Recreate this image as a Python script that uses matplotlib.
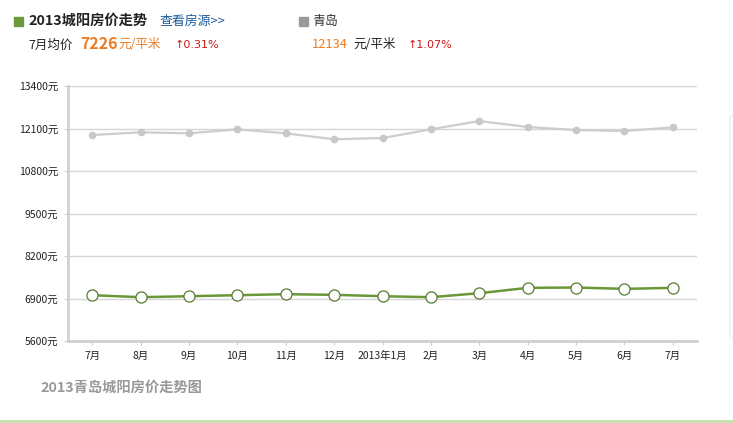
"""
2013 城阳房价走势图
"""
import matplotlib
matplotlib.use("Agg")
import matplotlib.pyplot as plt
from matplotlib.patches import FancyBboxPatch

plt.rcParams["font.family"] = ["Noto Sans CJK SC", "DejaVu Sans"]
plt.rcParams["axes.unicode_minus"] = False

# 数据
months = ["7月", "8月", "9月", "10月", "11月", "12月", "2013年1月",
          "2月", "3月", "4月", "5月", "6月", "7月"]
chengyang = [7001, 6940, 6970, 7001, 7032, 7012, 6970,
             6940, 7062, 7226, 7236, 7195, 7226]
qingdao = [11901, 11983, 11953, 12075, 11953, 11770, 11809,
           12075, 12329, 12146, 12054, 12023, 12134]
y_ticks = [5600, 6900, 8200, 9500, 10800, 12100, 13400]

W, H = 733, 423
fig = plt.figure(figsize=(W / 100, H / 100), dpi=100)

ax = fig.add_axes([68 / W, 1 - 341 / H, (697 - 68) / W, (341 - 86) / H])
x = list(range(len(months)))

ax.plot(x, qingdao, color="#cdcdcd", linewidth=1.6, marker="o",
        markersize=4.5, markerfacecolor="#c8c8c8", markeredgecolor="#c8c8c8",
        zorder=3)
ax.plot(x, chengyang, color="#6a9838", linewidth=1.8, marker="o",
        markersize=8, markerfacecolor="white", markeredgecolor="#5a7a32",
        markeredgewidth=0.9, zorder=4)

ax.set_xlim(-0.5, 12.5)
ax.set_ylim(5600, 13400)
ax.set_yticks(y_ticks)
ax.set_yticklabels([f"{v}元" for v in y_ticks], fontsize=7.5, color="#222222")
ax.set_xticks(x)
ax.set_xticklabels(months, fontsize=7.5, color="#222222")
ax.grid(axis="y", color="#d6d6d6", linewidth=1)
ax.set_axisbelow(True)
for s in ["top", "right"]:
    ax.spines[s].set_visible(False)
for s in ["left", "bottom"]:
    ax.spines[s].set_color("#d0d0d0")
    ax.spines[s].set_linewidth(2)
ax.tick_params(axis="both", length=3, color="#d0d0d0", pad=4)

# 右侧淡色边框
fig.patches.append(FancyBboxPatch((730 / W, 1 - 339 / H), 20 / W, 225 / H,
                                  boxstyle="round,pad=0,rounding_size=0.01",
                                  transform=fig.transFigure, facecolor="none",
                                  edgecolor="#ececec", linewidth=1))

# 标题区
fig.patches.append(plt.Rectangle((14 / W, 1 - 26 / H), 9 / W, 9 / H,
                                 transform=fig.transFigure, color="#6a9a3a"))
fig.text(28 / W, 1 - 21 / H, "2013城阳房价走势", fontsize=10.3, fontweight="bold",
         color="#222222", va="center")
fig.text(160 / W, 1 - 21 / H, "查看房源>>", fontsize=9.3, color="#1c5a96",
         va="center")
fig.patches.append(plt.Rectangle((299 / W, 1 - 26 / H), 9 / W, 9 / H,
                                 transform=fig.transFigure, color="#999999"))
fig.text(312 / W, 1 - 21 / H, "青岛", fontsize=9.3, color="#333333",
         va="center")

fig.text(28 / W, 1 - 45 / H, "7月均价", fontsize=9, color="#222222",
         va="center")
fig.text(80 / W, 1 - 44 / H, "7226", fontsize=11.5, fontweight="bold",
         color="#ec7c22", va="center")
fig.text(118 / W, 1 - 45 / H, "元/平米", fontsize=9, color="#ec7c22",
         va="center")
fig.text(175 / W, 1 - 45 / H, "↑0.31%", fontsize=8, color="#c81818",
         va="center", family=["DejaVu Sans"])
fig.text(312 / W, 1 - 45 / H, "12134", fontsize=9.3, color="#ec7c22",
         va="center")
fig.text(353 / W, 1 - 45 / H, "元/平米", fontsize=9, color="#222222",
         va="center")
fig.text(408 / W, 1 - 45 / H, "↑1.07%", fontsize=8, color="#c81818",
         va="center", family=["DejaVu Sans"])

fig.text(40 / W, 1 - 388 / H, "2013青岛城阳房价走势图", fontsize=10.3,
         fontweight="bold", color="#999999", va="center")

fig.add_artist(plt.Line2D([0, 1], [1 - 421 / H, 1 - 421 / H],
                          transform=fig.transFigure, color="#c5e0a8",
                          linewidth=2))

fig.savefig("out.png", dpi=100)
